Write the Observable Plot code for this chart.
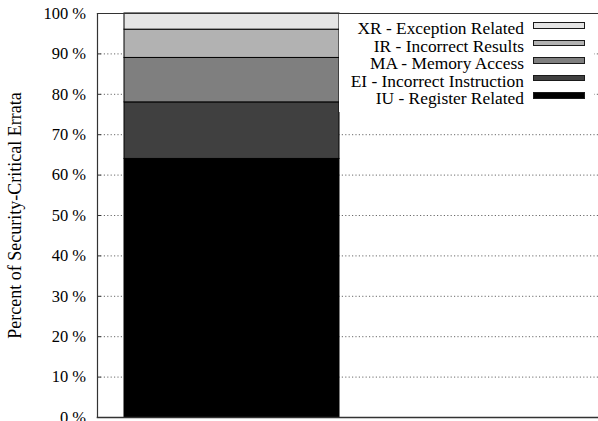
<!DOCTYPE html>
<html>
<head>
<meta charset="utf-8">
<script src="https://cdn.jsdelivr.net/npm/d3@7"></script>
<script src="https://cdn.jsdelivr.net/npm/@observablehq/plot@0.6"></script>
<style>
  html, body { margin: 0; padding: 0; background: #fff; }
  #chart { position: relative; width: 598px; height: 421px; overflow: hidden; }
  #chart svg { display: block; }
  .key {
    position: absolute; left: 339px; top: 14px; width: 255px;
    padding-top: 6.4px; padding-bottom: 4px;
    background: #fff;
    font-family: "Liberation Serif", "DejaVu Serif", serif; font-size: 17.4px;
  }
  .key-row { height: 17.5px; line-height: 17.5px; text-align: right; padding-right: 9px; white-space: nowrap; color: #000; }
  .key-swatch {
    display: inline-block; box-sizing: border-box; width: 52px; height: 6.6px;
    border: 1px solid #1a1a1a; margin-left: 9px; vertical-align: 5.7px;
  }
</style>
</head>
<body>
<div id="chart"></div>
<script>
// Error classes, bottom of the stack first
const errorClasses = [
  "IU - Register Related",
  "EI - Incorrect Instruction",
  "MA - Memory Access",
  "IR - Incorrect Results",
  "XR - Exception Related"
];
// Share of security-critical errata in each class (percent)
const shares = [64, 14, 11, 7, 4];
const shades = ["#000000", "#404040", "#7f7f7f", "#b2b2b2", "#e5e5e5"];
const column = "Errata";
const yTicks = [0, 10, 20, 30, 40, 50, 60, 70, 80, 90, 100];
const yTitle = "Percent of Security-Critical Errata";

const rows = errorClasses.map((c, i) => ({column, errorClass: c, share: shares[i]}));
const serif = "Liberation Serif, DejaVu Serif, serif";

const plot = Plot.plot({
  width: 598,
  height: 421,
  marginLeft: 97,
  marginRight: 0,
  marginTop: 13,
  marginBottom: 4,
  style: {fontFamily: serif, background: "#fff", overflow: "visible"},
  x: {domain: [column], axis: null, paddingInner: 0, paddingOuter: 0.665, align: 0.0944},
  y: {domain: [0, 100], axis: null},
  color: {domain: errorClasses, range: shades},
  marks: [
    Plot.gridY(yTicks, {stroke: "#6a6a6a", strokeOpacity: 1, strokeDasharray: "1.2,2.2"}),
    Plot.ruleY(yTicks, {stroke: "#333", strokeDasharray: "4,2000"}),
    Plot.barY(rows, {x: "column", y: "share", fill: "errorClass", stroke: "#000", strokeWidth: 1}),
    Plot.frame({anchor: "left", stroke: "#333", strokeWidth: 1.2}),
    Plot.frame({anchor: "top", stroke: "#333", strokeWidth: 1.2}),
    Plot.frame({anchor: "bottom", stroke: "#333", strokeWidth: 1.5}),
    Plot.axisY(yTicks, {
      tickSize: 0, tickPadding: 11.5, fontSize: 16.5, label: null,
      tickFormat: d => `${d} %`, fill: "#000", fontFamily: serif
    }),
    Plot.text([yTitle], {
      frameAnchor: "left", textAnchor: "middle", rotate: -90, dx: -82, fontSize: 18,
      fontFamily: serif, fill: "#000", text: d => d
    })
  ]
});

const chart = document.getElementById("chart");
chart.appendChild(plot);

// Key, top row first (reverse of stacking order)
const key = document.createElement("div");
key.className = "key";
errorClasses.slice().reverse().forEach(c => {
  const row = document.createElement("div");
  row.className = "key-row";
  const label = document.createElement("span");
  label.textContent = c;
  const sw = document.createElement("span");
  sw.className = "key-swatch";
  sw.style.background = shades[errorClasses.indexOf(c)];
  row.appendChild(label);
  row.appendChild(sw);
  key.appendChild(row);
});
chart.appendChild(key);
</script>
</body>
</html>
